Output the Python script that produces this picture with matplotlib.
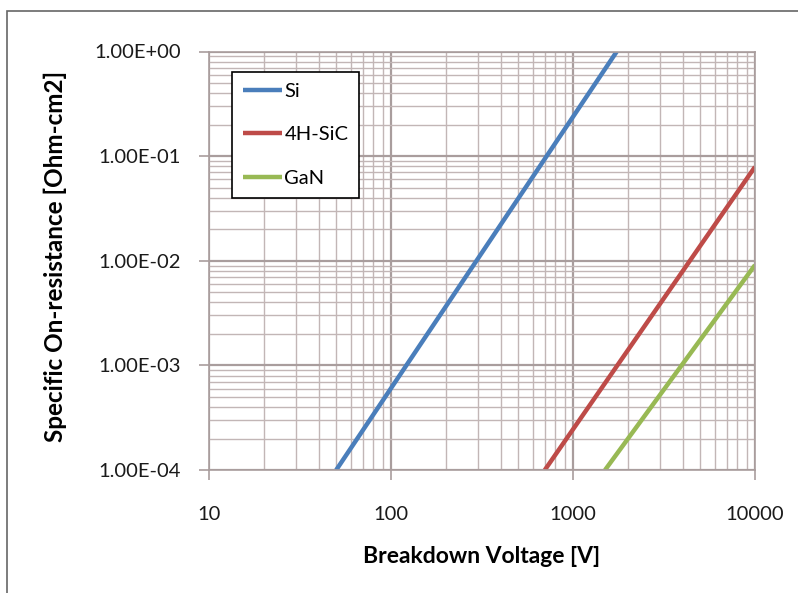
import matplotlib
matplotlib.use("Agg")
import matplotlib.pyplot as plt
from matplotlib.patches import Rectangle
from matplotlib.ticker import LogLocator, FuncFormatter, NullFormatter

# data (straight lines on log-log axes)
series_names = ["Si", "4H-SiC", "GaN"]
si_v = [50, 1740]
si_r = [1.0e-4, 1.0]
sic_v = [700, 10000]
sic_r = [1.0e-4, 0.079]
gan_v = [1500, 10000]
gan_r = [1.0e-4, 0.0091]
colors = ["#4a7ebb", "#be4b48", "#98b954"]

plt.rcParams['font.family'] = ['Lato', 'DejaVu Sans']

fig = plt.figure(figsize=(7.98, 5.93), dpi=100)
fig.patches.append(Rectangle((7/798, -0.1), 1.2, 1 - 11/593 + 0.1,
                             transform=fig.transFigure, fill=False,
                             edgecolor="#666666", linewidth=1.2))

ax = fig.add_axes([209/798, 1 - 470/593, (755 - 209)/798, (470 - 51.5)/593])
ax.set_xscale("log")
ax.set_yscale("log")
ax.set_xlim(10, 10000)
ax.set_ylim(1e-4, 1)

for v, r, name, c in zip([si_v, sic_v, gan_v], [si_r, sic_r, gan_r], series_names, colors):
    ax.plot(v, r, color=c, lw=3.2, label=name, solid_capstyle="butt")

gridc = "#c2b6b6"
ax.xaxis.set_major_locator(LogLocator(base=10, numticks=10))
ax.yaxis.set_major_locator(LogLocator(base=10, numticks=10))
ax.xaxis.set_minor_locator(LogLocator(base=10, subs=range(2, 10), numticks=20))
ax.yaxis.set_minor_locator(LogLocator(base=10, subs=range(2, 10), numticks=20))
ax.xaxis.set_minor_formatter(NullFormatter())
ax.yaxis.set_minor_formatter(NullFormatter())
ax.xaxis.set_major_formatter(FuncFormatter(lambda v, p: f"{v:.0f}"))
ax.yaxis.set_major_formatter(FuncFormatter(lambda v, p: f"{v:.2E}"))
ax.grid(True, which="major", color="#a99d9d", lw=1.6)
ax.grid(True, which="minor", color=gridc, lw=1.0)
ax.set_axisbelow(True)

for s in ax.spines.values():
    s.set_color("#a99d9d")
    s.set_linewidth(1.2)
ax.tick_params(which="major", length=7, width=1.2, color="#a99d9d",
               labelsize=14.5, colors="#1a1a1a")
ax.tick_params(which="minor", length=0)
ax.tick_params(axis="x", pad=19)
ax.tick_params(axis="y", pad=13)

ax.set_xlabel("Breakdown Voltage [V]", fontsize=16.5, fontweight="bold")
ax.set_ylabel("Specific On-resistance [Ohm-cm2]", fontsize=17.5, fontweight="bold")
ax.xaxis.set_label_coords(0.5, (470 - 546) / 418.5)
ax.yaxis.set_label_coords((67 - 209) / 546, 0.51)

leg = ax.legend(loc="upper left", bbox_to_anchor=((232 - 209) / 546, (470 - 72) / 418.5),
                borderaxespad=0, fontsize=14.5, frameon=True, fancybox=False,
                handlelength=1.95, handletextpad=0.1, labelspacing=1.3, borderpad=0.55)
leg.get_frame().set_edgecolor("black")
leg.get_frame().set_linewidth(1.2)
leg.get_frame().set_alpha(1)

fig.savefig("out.png", dpi=100)
